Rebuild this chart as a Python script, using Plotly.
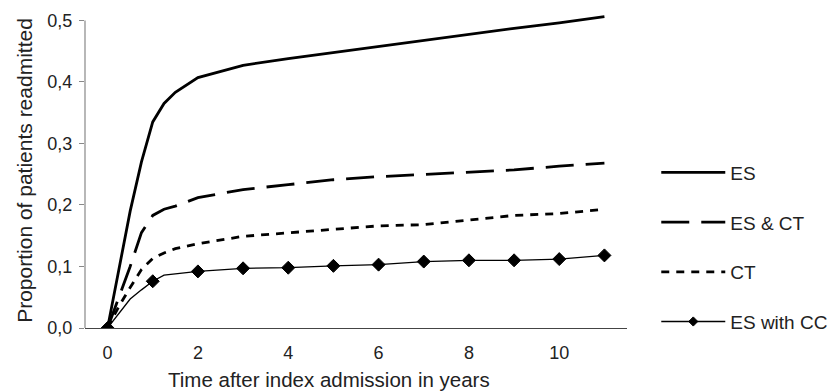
import plotly.graph_objects as go

years = [0, 0.25, 0.5, 0.75, 1, 1.25, 1.5, 2, 3, 4, 5, 6, 7, 8, 9, 10, 11]
es = [0, 0.095, 0.19, 0.27, 0.335, 0.365, 0.383, 0.407, 0.427, 0.438, 0.448, 0.458, 0.467, 0.477, 0.487, 0.496, 0.506]
es_ct = [0, 0.05, 0.10, 0.155, 0.183, 0.193, 0.198, 0.212, 0.225, 0.233, 0.241, 0.246, 0.250, 0.254, 0.257, 0.263, 0.268]
ct = [0, 0.035, 0.066, 0.095, 0.113, 0.122, 0.129, 0.137, 0.149, 0.155, 0.160, 0.166, 0.168, 0.175, 0.183, 0.186, 0.193]
es_cc = [0, 0.024, 0.047, 0.062, 0.076, 0.086, 0.088, 0.092, 0.097, 0.098, 0.101, 0.103, 0.108, 0.110, 0.110, 0.112, 0.118]
cc_marker_years = [0, 1, 2, 3, 4, 5, 6, 7, 8, 9, 10, 11]
x_ticks = [0, 2, 4, 6, 8, 10]
y_ticks = [0.0, 0.1, 0.2, 0.3, 0.4, 0.5]
names = ["ES", "ES & CT", "CT", "ES with CC"]
x_title = "Time after index admission in years"
y_title = "Proportion of patients readmitted"

FONT = "Liberation Sans, Arial, sans-serif"
INK = "#000000"

fig = go.Figure()
fig.add_trace(go.Scatter(x=years, y=es, mode="lines", name=names[0], legendgroup="a",
                         line=dict(color=INK, width=2.8)))
fig.add_trace(go.Scatter(x=years, y=es_ct, mode="lines", name=names[1], legendgroup="b",
                         line=dict(color=INK, width=2.8, dash="28px,12px")))
fig.add_trace(go.Scatter(x=years, y=ct, mode="lines", name=names[2], legendgroup="c",
                         line=dict(color=INK, width=2.8, dash="8px,7px")))
sizes = [10 if x in cc_marker_years else 0 for x in years]
fig.add_trace(go.Scatter(x=years, y=es_cc, mode="lines+markers", name=names[3], legendgroup="d",
                         line=dict(color=INK, width=1.3),
                         marker=dict(symbol="diamond", size=sizes, color=INK, opacity=1,
                                     line=dict(width=1, color=INK))))

# y axis line drawn only up to the top tick (0.5); the range leaves headroom for the ES line
fig.add_shape(type="line", xref="paper", yref="y", x0=0, x1=0, y0=0, y1=max(y_ticks),
              line=dict(color="#888", width=1.2))

# x-axis title placed slightly left of centre, as in the original
fig.add_annotation(text=x_title, xref="paper", yref="paper", x=0.45, y=-0.165,
                   xanchor="center", yanchor="middle", showarrow=False,
                   font=dict(family=FONT, size=20.5, color="#222"))

fig.update_layout(
    width=840, height=392,
    margin=dict(l=85, r=213, t=13, b=64, autoexpand=False),
    paper_bgcolor="white", plot_bgcolor="white",
    separators=", ",
    font=dict(family=FONT, color="#222", size=18),
    showlegend=True,
    legend=dict(x=1.054, xanchor="left", y=0.257, yanchor="middle",
                font=dict(family=FONT, size=19, color="#222"),
                traceorder="grouped", tracegroupgap=22, itemwidth=64,
                bgcolor="rgba(0,0,0,0)"),
    xaxis=dict(range=[-0.5, 11.5], tickvals=x_ticks, showgrid=False, zeroline=False,
               showline=True, linecolor="#444", linewidth=1.2, ticks="", automargin=False,
               ticklabelstandoff=8, tickfont=dict(size=18)),
    yaxis=dict(range=[0, 0.512], tickvals=y_ticks, tickformat=".1f", showgrid=False, zeroline=False,
               showline=False, ticks="outside", ticklen=5, automargin=False, ticklabelstandoff=3,
               tickcolor="#888", tickfont=dict(size=18),
               title=dict(text=y_title, font=dict(size=21), standoff=9)),
)

fig.write_html("out.html", config={"displayModeBar": False},
               post_script="document.body.style.margin='0';")
